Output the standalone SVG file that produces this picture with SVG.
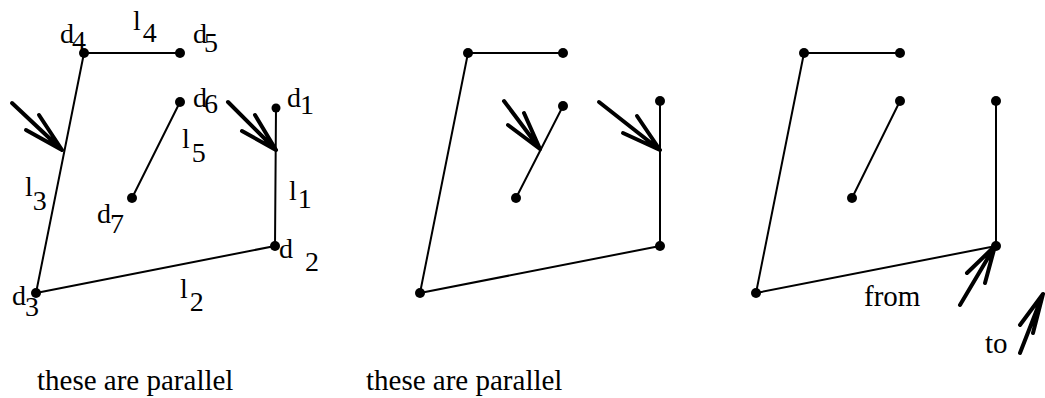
<svg xmlns="http://www.w3.org/2000/svg" width="1045" height="398" viewBox="0 0 1045 398">
<style>
.e{stroke:#000;stroke-width:2;fill:none;stroke-linecap:round}
.a{stroke:#000;stroke-width:4;fill:none;stroke-linecap:round}
.d{fill:#000}
.l{font-size:28px}
.t{font-size:29px}
</style>
<rect width="1045" height="398" fill="#fff"/>
<g id="connectors">
<g id="p1-edges">
<line class="e" x1="84" y1="53" x2="180" y2="53"/>
<line class="e" x1="84" y1="53" x2="36" y2="293"/>
<line class="e" x1="36" y1="293" x2="275" y2="246"/>
<line class="e" x1="275" y1="246" x2="276" y2="108"/>
<line class="e" x1="180" y1="102" x2="132" y2="198"/>
</g>
<g id="p2-edges">
<line class="e" x1="468" y1="53" x2="563" y2="53"/>
<line class="e" x1="468" y1="53" x2="420" y2="293"/>
<line class="e" x1="420" y1="293" x2="660" y2="246"/>
<line class="e" x1="660" y1="246" x2="660" y2="101"/>
<line class="e" x1="563" y1="106" x2="516" y2="198"/>
</g>
<g id="p3-edges">
<line class="e" x1="804" y1="53" x2="900" y2="53"/>
<line class="e" x1="804" y1="53" x2="756" y2="293"/>
<line class="e" x1="756" y1="293" x2="996" y2="246"/>
<line class="e" x1="996" y1="246" x2="996" y2="101"/>
<line class="e" x1="900" y1="101" x2="852" y2="198"/>
</g>
<g id="arrows">
<path class="a" d="M12 103L62 150M39 115L62 150M26 130L62 150"/>
<path class="a" d="M228 102L276 150M255 115L276 150M242 131L276 150"/>
<path class="a" d="M504 101L540 149M524 113L540 149M508 125L540 149"/>
<path class="a" d="M599 102L660 150M637 116L660 150M623 133L660 150"/>
<path class="a" d="M960 305L995 246M967 273L995 246M985 283L995 246"/>
<path class="a" d="M1020 353L1043 294M1020 325L1043 294M1033 333L1043 294"/>
</g>
</g>
<g font-family="'Liberation Serif', 'DejaVu Serif', 'Times New Roman', serif" fill="#000">
<g id="p1-nodes">
<g id="d1"><circle class="d" cx="276" cy="108" r="4.5"/><text class="l" x="287" y="107">d<tspan dx="-1" dy="7">1</tspan></text></g>
<g id="d2"><circle class="d" cx="275" cy="246" r="5"/><text class="l" x="279" y="258">d<tspan dx="12" dy="13">2</tspan></text></g>
<g id="d3"><circle class="d" cx="36" cy="293" r="5"/><text class="l" x="12" y="305">d<tspan dx="-1" dy="11">3</tspan></text></g>
<g id="d4"><circle class="d" cx="84" cy="53" r="5"/><text class="l" x="60" y="43">d<tspan dx="-2" dy="7">4</tspan></text></g>
<g id="d5"><circle class="d" cx="180" cy="53" r="5"/><text class="l" x="193" y="43">d<tspan dx="-3" dy="9">5</tspan></text></g>
<g id="d6"><circle class="d" cx="180" cy="102" r="5"/><text class="l" x="193" y="107">d<tspan dx="-3" dy="6">6</tspan></text></g>
<g id="d7"><circle class="d" cx="132" cy="198" r="5"/><text class="l" x="97" y="223">d<tspan dx="-1" dy="10">7</tspan></text></g>
<g id="l1"><text class="l" x="289" y="200">l<tspan dx="1" dy="8">1</tspan></text></g>
<g id="l2"><text class="l" x="180" y="298">l<tspan dx="2" dy="13">2</tspan></text></g>
<g id="l3"><text class="l" x="25" y="196">l<tspan dx="0" dy="14">3</tspan></text></g>
<g id="l4"><text class="l" x="133" y="30">l<tspan dx="2" dy="12">4</tspan></text></g>
<g id="l5"><text class="l" x="182" y="148">l<tspan dx="2" dy="14">5</tspan></text></g>
<text class="t" x="37" y="390">these are parallel</text>
</g>
<g id="p2-label"><text class="t" x="366" y="390">these are parallel</text></g>
<g id="p3-labels">
<text class="t" x="864" y="306">from</text>
<text class="t" x="985" y="353">to</text>
</g>
</g>
<g id="p2-nodes">
<circle class="d" cx="468" cy="53" r="5"/>
<circle class="d" cx="563" cy="53" r="5"/>
<circle class="d" cx="563" cy="106" r="5"/>
<circle class="d" cx="516" cy="198" r="5"/>
<circle class="d" cx="660" cy="101" r="5"/>
<circle class="d" cx="660" cy="246" r="5"/>
<circle class="d" cx="420" cy="293" r="5"/>
</g>
<g id="p3-nodes">
<circle class="d" cx="804" cy="53" r="5"/>
<circle class="d" cx="900" cy="53" r="5"/>
<circle class="d" cx="900" cy="101" r="5"/>
<circle class="d" cx="852" cy="198" r="5"/>
<circle class="d" cx="996" cy="101" r="5"/>
<circle class="d" cx="996" cy="246" r="5"/>
<circle class="d" cx="756" cy="293" r="5"/>
</g>
</svg>
